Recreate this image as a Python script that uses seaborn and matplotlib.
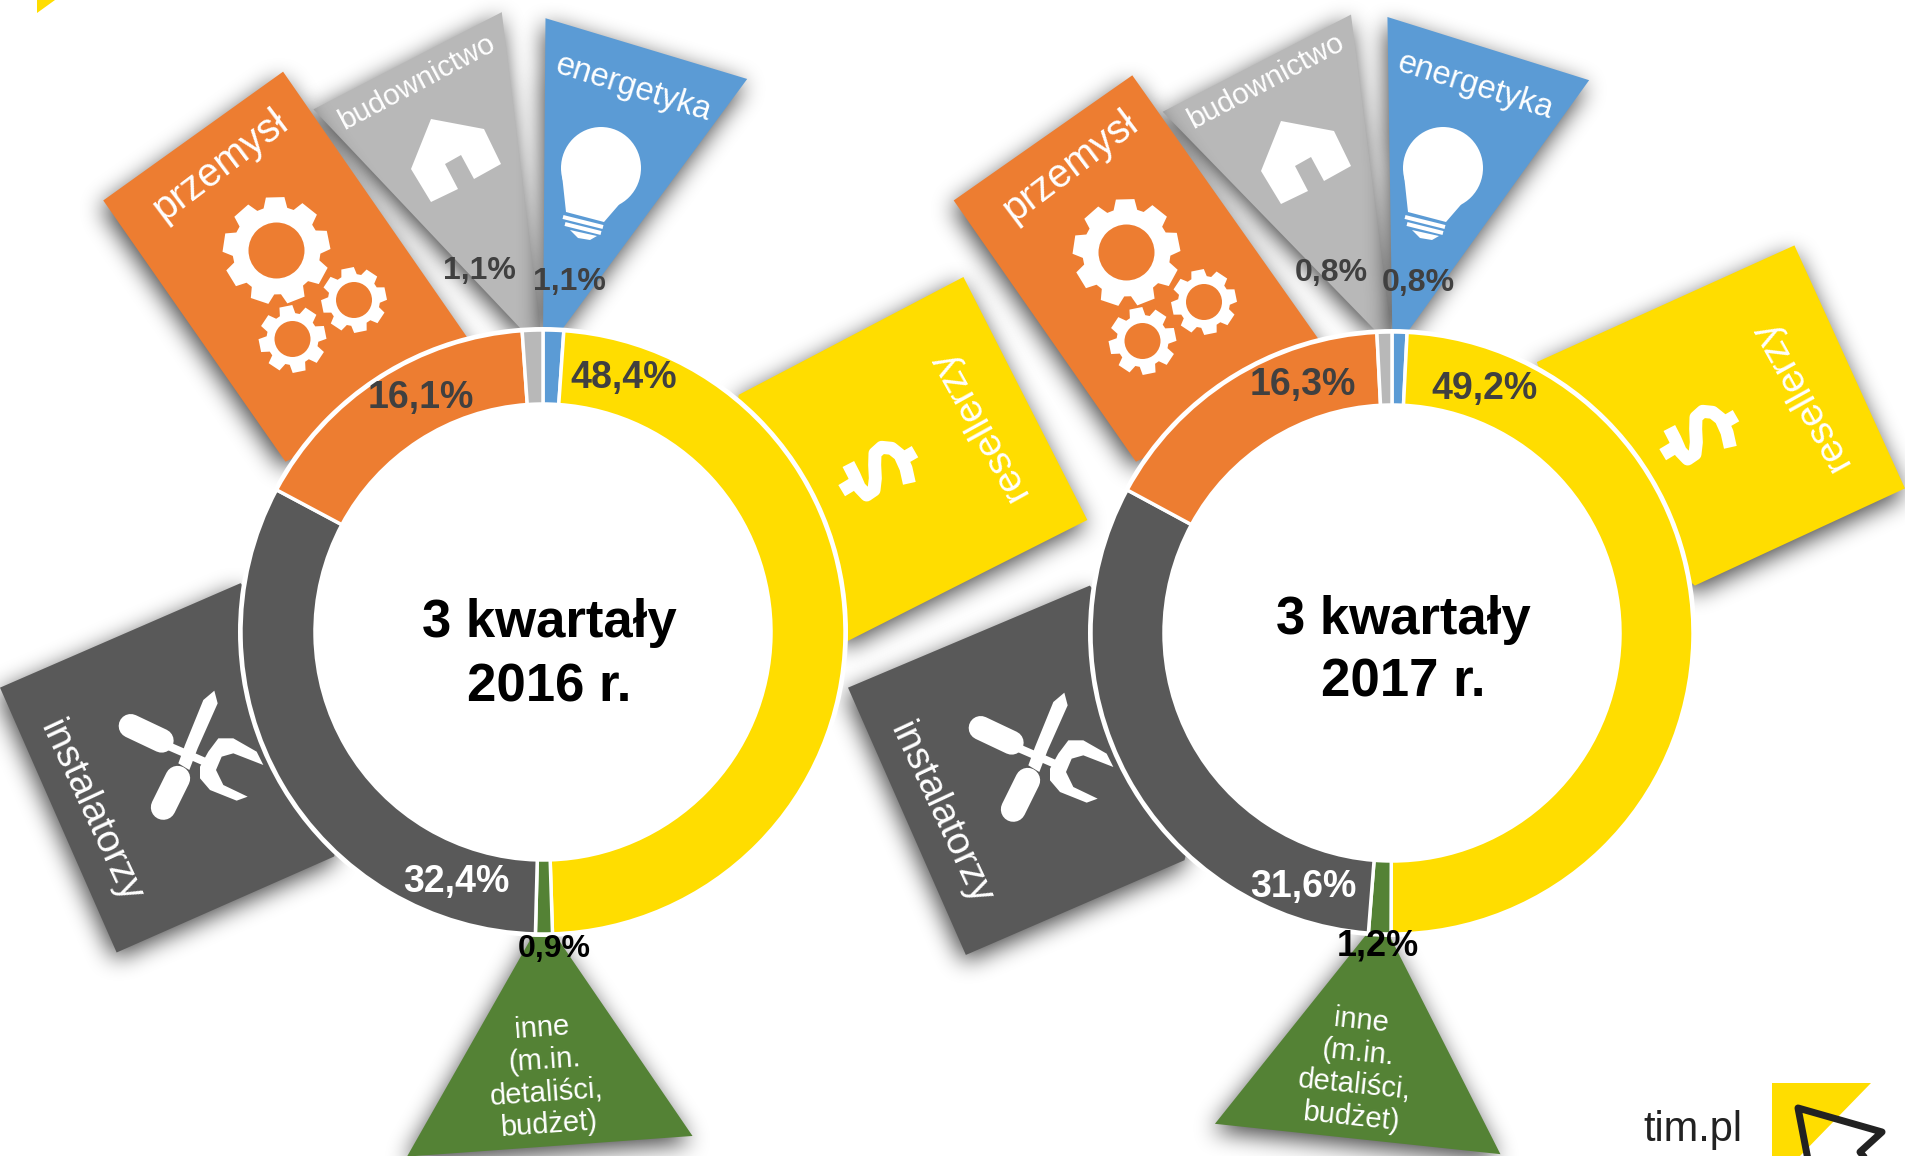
import numpy as np
import matplotlib
matplotlib.use('Agg')
import matplotlib.pyplot as plt
from matplotlib.patches import Polygon, Circle, Ellipse
from matplotlib.path import Path
import seaborn as sns

sns.set_theme(style='white')
plt.rcParams['font.family'] = ['Liberation Sans', 'DejaVu Sans']

W, H = 1905, 1156
S = 1905 / 1568  # the coordinates below

segments = ['energetyka', 'resellerzy', 'inne', 'instalatorzy', 'przemysl', 'budownictwo']
values_2016 = [1.1, 48.4, 0.9, 32.4, 16.1, 1.1]
values_2017 = [0.8, 49.2, 1.2, 31.6, 16.3, 0.8]
labels_2016 = ['1,1%', '48,4%', '0,9%', '32,4%', '16,1%', '1,1%']
labels_2017 = ['0,8%', '49,2%', '1,2%', '31,6%', '16,3%', '0,8%']
colors = ['#5B9BD5', '#FFDD00', '#548235', '#595959', '#ED7D31', '#B8B8B8']
label_colors = ['#404040', '#404040', '#000000', '#FFFFFF', '#404040', '#404040']

fig = plt.figure(figsize=(W / 100, H / 100), dpi=100)
ax = fig.add_axes([0, 0, 1, 1])


def px(x, y):
    return x, H - y


def sh(pts):
    return [(x * S, H - y * S) for x, y in pts]


def crop(pts, x0, y0):
    return [(x0 + x / 3, y0 + y / 3) for x, y in pts]


def blur(a, n=11):
    k = np.ones(n) / n
    for _ in range(3):
        a = np.apply_along_axis(lambda r: np.convolve(r, k, mode='same'), 0, a)
        a = np.apply_along_axis(lambda r: np.convolve(r, k, mode='same'), 1, a)
    return a


def panel(pts, color, z):
    pts = np.array(sh(pts))
    shifted = pts + np.array([-3, -8])
    x0, y0 = shifted.min(axis=0) - 50
    x1, y1 = shifted.max(axis=0) + 50
    xs = np.arange(x0, x1, 2)
    ys = np.arange(y0, y1, 2)
    xx, yy = np.meshgrid(xs, ys)
    mask = Path(shifted).contains_points(np.c_[xx.ravel(), yy.ravel()]).reshape(xx.shape)
    rgba = np.zeros(mask.shape + (4,))
    rgba[..., 3] = blur(mask.astype(float)) * 0.72
    ax.imshow(rgba, extent=(xs[0], xs[-1] + 2, ys[0], ys[-1] + 2), origin='lower', aspect='auto',
              interpolation='bilinear', zorder=z)
    ax.add_patch(Polygon(pts, closed=True, fc=color, ec='none', zorder=z + 0.05))


def gear(cx, cy, body, outer, hole, teeth, back, z=3):
    pts = []
    step = 2 * np.pi / teeth
    for i in range(teeth):
        a = i * step + 0.2
        for da, r in [(-0.30, body), (-0.19, outer), (0.19, outer), (0.30, body)]:
            t = a + da * step * 1.3
            pts.append((cx + r * np.cos(t), H - cy + r * np.sin(t)))
    ax.add_patch(Polygon(pts, closed=True, fc='white', ec='none', zorder=z))
    ax.add_patch(Circle(px(cx, cy), hole, fc=back, ec='none', zorder=z + 0.1))


def stroke(pts, width, dx=0, dy=0, cap='round', color='white', z=3):
    xs = [p[0] + dx for p in pts]
    ys = [H - p[1] - dy for p in pts]
    ax.plot(xs, ys, color=color, lw=width * 0.72, solid_capstyle=cap, solid_joinstyle='round', zorder=z)


def fill(pts, dx=0, dy=0, color='white', z=3):
    ax.add_patch(Polygon([(x + dx, H - y - dy) for x, y in pts], closed=True, fc=color, ec='none', zorder=z))


def icons(dx, dy):
    # gears
    for cx, cy, b, o, h, n in [(276.5, 250.5, 44, 54, 28, 9), (354, 300, 26, 33, 18, 8), (292.5, 339, 26, 34, 18, 8)]:
        gear(cx + dx, cy + dy, b, o, h, n, colors[4])
    # house
    fill([(431, 119), (484, 129), (501, 164), (474, 179), (461, 155), (445, 164), (458, 189), (431, 202), (411, 169)], dx, dy)
    # tools
    stroke(crop([(92, 168), (185, 212)], 100, 670), 24, dx, dy)
    stroke(crop([(205, 228), (325, 280)], 100, 670), 8, dx, dy, cap='butt')
    fill(crop([(355, 205), (400, 205), (470, 245), (490, 285), (400, 250), (365, 260), (348, 300), (370, 345),
               (443, 380), (410, 392), (330, 360), (300, 325), (300, 290), (325, 245)], 100, 670), dx, dy)
    fill(crop([(343, 62), (353, 100), (293, 235), (268, 300), (235, 280), (255, 225), (310, 90)], 100, 670), dx, dy)
    stroke(crop([(233, 325), (190, 412)], 100, 670), 25, dx, dy)


def dollar(dx, dy):
    stroke(crop([(328, 250), (318, 205), (300, 165), (275, 145), (245, 142), (225, 160), (224, 195), (226, 235),
                 (222, 270), (200, 285), (178, 262), (162, 225), (145, 192)], 800, 400), 13, dx, dy, cap='butt', z=6)
    stroke(crop([(345, 155), (305, 178)], 800, 400), 13, dx, dy, cap='butt', z=6)
    stroke(crop([(125, 272), (165, 248)], 800, 400), 13, dx, dy, cap='butt', z=6)


def bulb(dx, dy):
    ax.add_patch(Ellipse(px(601 + dx, 168 + dy), 80, 82, fc='white', ec='none', zorder=3))
    fill([(562, 175), (566, 212), (604, 222), (636, 185)], dx, dy)
    stroke([(563, 217), (603, 227)], 4, dx, dy, cap='butt')
    stroke([(565, 224), (601, 233)], 4, dx, dy, cap='butt')
    fill([(570, 230), (597, 236), (590, 240), (578, 238)], dx, dy)


def donut(cx, cy, r_out, r_in, values, labels, label_pos, sizes):
    ax.add_patch(Circle(px(cx, cy), r_in + 1, fc='white', ec='none', zorder=7))
    ax.add_patch(Circle(px(cx, cy), r_out + 3, fc='white', ec='none', zorder=7))
    ax.pie(values, colors=sns.color_palette(colors), startangle=90, counterclock=False,
           center=px(cx, cy), radius=r_out,
           wedgeprops={'width': r_out - r_in, 'edgecolor': 'white', 'linewidth': 2.5, 'zorder': 8})
    for lab, col, (x, y), size in zip(labels, label_colors, label_pos, sizes):
        ax.text(x * S, H - y * S, lab, ha='center', va='center', fontsize=size,
                fontweight='bold', color=col, zorder=12)


# left group
panel([(258, 90), (413, 10), (445, 272), (430, 272)], colors[5], 2)
panel([(449, 15), (615, 65), (462, 272), (447, 272)], colors[0], 2.1)
panel([(85, 165), (233, 59), (400, 300), (235, 380)], colors[4], 2.2)
panel([(608, 325), (793, 228), (895, 428), (697, 528), (600, 400)], colors[1], 2.3)
panel([(198, 480), (0, 566), (96, 784), (275, 705), (300, 600)], colors[3], 2.4)
panel([(447, 755), (570, 935), (335, 952)], colors[2], 2.5)

# right group
panel([(957, 92), (1112, 12), (1145, 272), (1132, 272)], colors[5], 2)
panel([(1142, 14), (1308, 66), (1158, 274), (1146, 274)], colors[0], 2.1)
panel([(785, 165), (932, 62), (1100, 300), (935, 380)], colors[4], 2.2)
panel([(1265, 298), (1477, 202), (1568, 402), (1395, 482), (1300, 400)], colors[1], 2.3)
panel([(897, 482), (698, 566), (795, 786), (975, 708), (1000, 600)], colors[3], 2.4)
panel([(1136, 755), (1235, 950), (1000, 925)], colors[2], 2.5)

icons(0, 0)
icons(850, 2)
bulb(0, 0)
bulb(842, 0)
dollar(0, 0)
dollar(821, -36)

donut(543, 632, 302, 228, values_2016, labels_2016,
      [(469, 232), (513, 311), (456, 781), (376, 726), (346, 328), (395, 223)],
      [23, 27, 23, 27, 27, 23])
donut(1392, 633, 301, 228, values_2017, labels_2017,
      [(1167, 233), (1222, 320), (1134, 779), (1073, 730), (1072, 317), (1096, 225)],
      [23, 27, 26, 27, 27, 23])

ax.set_xlim(0, W)
ax.set_ylim(0, H)
ax.set_aspect('auto')
ax.axis('off')


def label(x, y, s, rot, size, **kw):
    ax.text(x * S, H - y * S, s, rotation=rot, rotation_mode='anchor', ha='center', va='center',
            fontsize=size, color='white', zorder=6, **kw)


label(181, 136, 'przemysł', 37, 28.5)
label(881, 137, 'przemysł', 37, 28.5)
label(805, 350, 'resellerzy', 119, 28)
label(1482, 325, 'resellerzy', 119, 28)
label(74, 668, 'instalatorzy', -65, 28)
label(774, 670, 'instalatorzy', -65, 28)
label(343, 68, 'budownictwo', 28, 21.5)
label(1042, 67, 'budownictwo', 28, 21.5)
label(521, 73, 'energetyka', -17.5, 23.5)
label(1214, 71, 'energetyka', -17.5, 23.5)
label(449, 886, 'inne\n(m.in.\ndetaliści,\nbudżet)', 4, 21, linespacing=1.2)
label(1116, 880, 'inne\n(m.in.\ndetaliści,\nbudżet)', -6, 21, linespacing=1.2)

for x, y, year in [(452, 513, '3 kwartały'), (452, 566, '2016 r.'), (1155, 510, '3 kwartały'), (1155, 562, '2017 r.')]:
    ax.text(x * S, H - y * S, year, ha='center', va='center', fontsize=38, fontweight='bold', color='black', zorder=12)

# logo corners
fill([(37, 0), (55, 0), (37, 13)], color='#FFDD00')
fill([(1772, 1083), (1871, 1083), (1800, 1156), (1772, 1156)], color='#FFDD00')
stroke([(1810, 1170), (1798, 1108), (1882, 1132), (1860, 1152), (1875, 1170)], 7, color='#222222', z=4)
ax.text(1393 * S, H - 930 * S, 'tim.pl', ha='center', va='center', fontsize=30, color='#222222', zorder=6)

plt.savefig('out.png', dpi=100)
